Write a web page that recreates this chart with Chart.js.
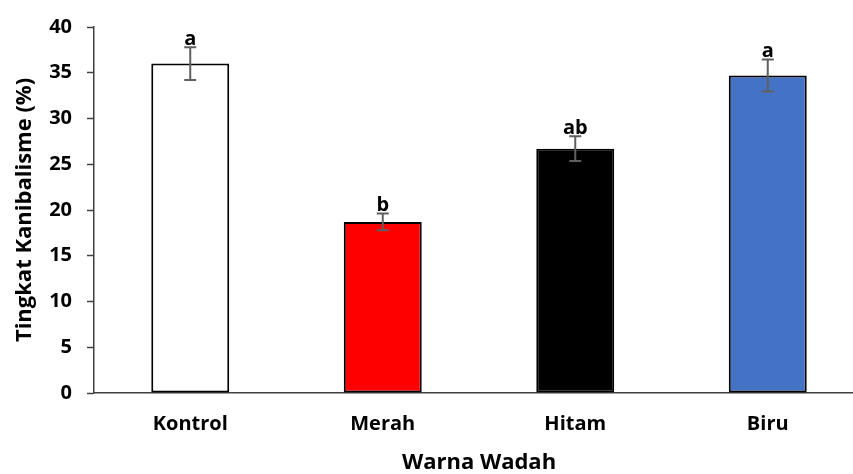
<!DOCTYPE html>
<html>
<head>
<meta charset="utf-8">
<script src="https://cdn.jsdelivr.net/npm/chart.js@4.4.1/dist/chart.umd.min.js"></script>
<style>
  html, body { margin: 0; padding: 0; background: #fff; }
  .wrap { width: 853px; height: 474px; overflow: hidden; position: relative; }
  .box { width: 866px; height: 476px; }
</style>
</head>
<body>
<div class="wrap"><div class="box"><canvas class="bar-chart"></canvas></div></div>
<script>
// Data
const categories = ['Kontrol', 'Merah', 'Hitam', 'Biru'];
const cannibalism = [36.0, 18.7, 26.7, 34.7];
const errors = [1.8, 0.92, 1.35, 1.75];
const letters = ['a', 'b', 'ab', 'a'];
const barColors = ['#ffffff', '#ff0000', '#000000', '#4472c4'];
const yTicks = [0, 5, 10, 15, 20, 25, 30, 35, 40];

const FONT = "'Open Sans', 'Liberation Sans', sans-serif";

// error bars + significance letters
const errorBarPlugin = {
    id: 'errorBars',
    afterDatasetsDraw(chart) {
        const ctx = chart.ctx;
        const x = chart.scales.x;
        const y = chart.scales.y;
        ctx.save();
        cannibalism.forEach((v, i) => {
            const cx = x.getPixelForValue(i);
            const top = y.getPixelForValue(v + errors[i]);
            const bot = y.getPixelForValue(v - errors[i]);
            ctx.strokeStyle = '#5f5f5f';
            ctx.lineWidth = 2;
            ctx.beginPath();
            ctx.moveTo(cx, top); ctx.lineTo(cx, bot);
            ctx.moveTo(cx - 6, top); ctx.lineTo(cx + 6, top);
            ctx.moveTo(cx - 6, bot); ctx.lineTo(cx + 6, bot);
            ctx.stroke();

            ctx.fillStyle = '#000';
            ctx.font = 'bold 20px ' + FONT;
            ctx.textAlign = 'center';
            ctx.textBaseline = 'alphabetic';
            ctx.fillText(letters[i], cx, top - 2);
        });
        ctx.restore();
    }
};

let barChart = null;

function initializeBarChart() {
    const ctx = document.querySelector('.bar-chart').getContext('2d');
    barChart = new Chart(ctx, {
        type: 'bar',
        data: {
            labels: categories,
            datasets: [{
                label: 'Tingkat Kanibalisme',
                data: cannibalism,
                backgroundColor: barColors,
                borderColor: '#000',
                borderWidth: 2,
                borderSkipped: false,
                categoryPercentage: 1.0,
                barPercentage: 0.405
            }]
        },
        options: {
            responsive: true,
            maintainAspectRatio: false,
            animation: false,
            layout: { padding: { top: 23, right: 2, bottom: 0, left: 0 } },
            plugins: {
                legend: { display: false },
                tooltip: { enabled: false }
            },
            scales: {
                x: {
                    afterFit: (scale) => { scale.height = 83; },
                    grid: { display: true, drawOnChartArea: false, drawTicks: false },
                    border: { display: true, color: '#404040', width: 1.5 },
                    ticks: {
                        color: '#000',
                        padding: 19,
                        font: { family: FONT, size: 20, weight: 'bold' }
                    },
                    title: {
                        display: true,
                        text: 'Warna Wadah',
                        color: '#000',
                        padding: { top: 0, bottom: 0 },
                        font: { family: FONT, size: 22, weight: 'bold' }
                    }
                },
                y: {
                    min: 0,
                    max: 40,
                    afterFit: (scale) => { scale.width = 94; },
                    afterBuildTicks: (scale) => { scale.ticks = yTicks.map(v => ({ value: v })); },
                    grid: { display: true, drawOnChartArea: false, drawTicks: true, tickLength: 7, tickColor: '#404040', tickWidth: 1.5 },
                    border: { display: true, color: '#404040', width: 1.5 },
                    ticks: {
                        color: '#000',
                        padding: 15,
                        font: { family: FONT, size: 20, weight: 'bold' }
                    },
                    title: {
                        display: true,
                        text: 'Tingkat Kanibalisme (%)',
                        color: '#000',
                        padding: { top: 12, bottom: 0 },
                        font: { family: FONT, size: 22, weight: 'bold' }
                    }
                }
            }
        },
        plugins: [errorBarPlugin]
    });
}

initializeBarChart();
</script>
</body>
</html>
